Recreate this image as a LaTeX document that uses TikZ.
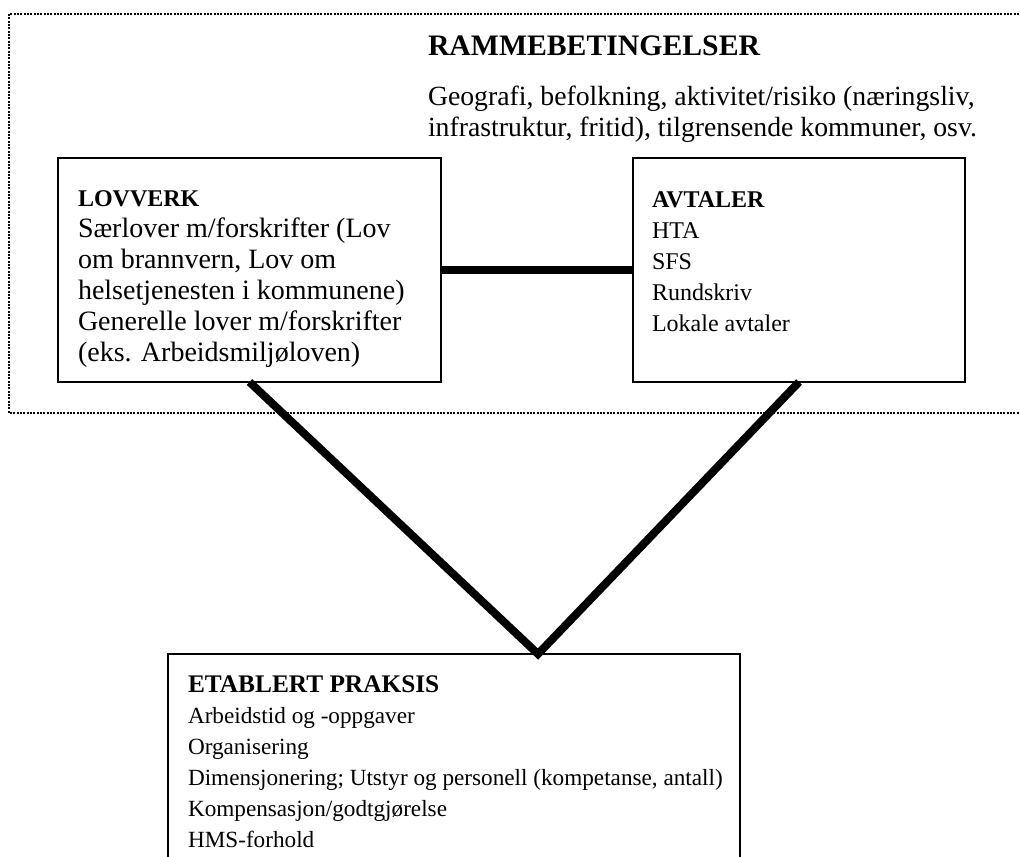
\documentclass[tikz,border=0pt]{standalone}
\usepackage{fontspec}
\setmainfont{Liberation Serif}
\begin{document}
\begin{tikzpicture}[x=0.75pt,y=-0.75pt,
  box/.style={draw,line width=1pt,inner sep=0pt,outer sep=0pt},
  txt/.style={inner sep=0pt,outer sep=0pt,align=left,anchor=north west,font=\fontsize{18}{23.25}\selectfont},
  thickline/.style={line width=6pt},
  frame/.style={line width=1.3pt,dash pattern=on 1.5pt off 1pt}]
\clip (0,0) rectangle (1020,856);
% dotted frame
\draw[frame] (9,14) rectangle (1030,413);
% boxes
\node[box,minimum width=287.25pt,minimum height=168pt] (lov) at (249.5,270) {};
\node[box,minimum width=249pt,minimum height=168pt] (avt) at (799,270) {};
\node[box,minimum width=429pt,minimum height=195pt] (prak) at (454,784) {};
\coordinate (apex) at (538,654);
% connectors
\draw[thickline] (lov.east) -- (avt.west);
\draw[thickline] (lov.south) -- (apex) -- (avt.south);
% texts
\node[txt,font=\fontsize{22.3}{26}\selectfont\bfseries] (ramt) at (428,36) {RAMMEBETINGELSER};
\node[txt,font=\fontsize{20.8}{23.25}\selectfont] (ramb) at (428,86) {Geografi, befolkning, aktivitet/risiko (næringsliv,\\infrastruktur, fritid), tilgrensende kommuner, osv.};
\node[txt,font=\fontsize{21}{23.25}\selectfont] (lovt) at (78,191) {{\fontsize{18}{25.5}\selectfont\bfseries LOVVERK}\\Særlover m/forskrifter (Lov\\om brannvern, Lov om\\helsetjenesten i kommunene)\\Generelle lover m/forskrifter\\(eks. Arbeidsmiljøloven)};
\node[txt] (avtt) at (652,192) {{\fontsize{18}{25.5}\selectfont\bfseries AVTALER}\\HTA\\SFS\\Rundskriv\\Lokale avtaler};
\node[txt,font=\fontsize{17.4}{23.25}\selectfont] (prakt) at (188,676) {{\fontsize{19}{23.25}\selectfont\bfseries ETABLERT PRAKSIS}\\Arbeidstid og -oppgaver\\Organisering\\Dimensjonering; Utstyr og personell (kompetanse, antall)\\Kompensasjon/godtgjørelse\\HMS-forhold};
\end{tikzpicture}
\end{document}
